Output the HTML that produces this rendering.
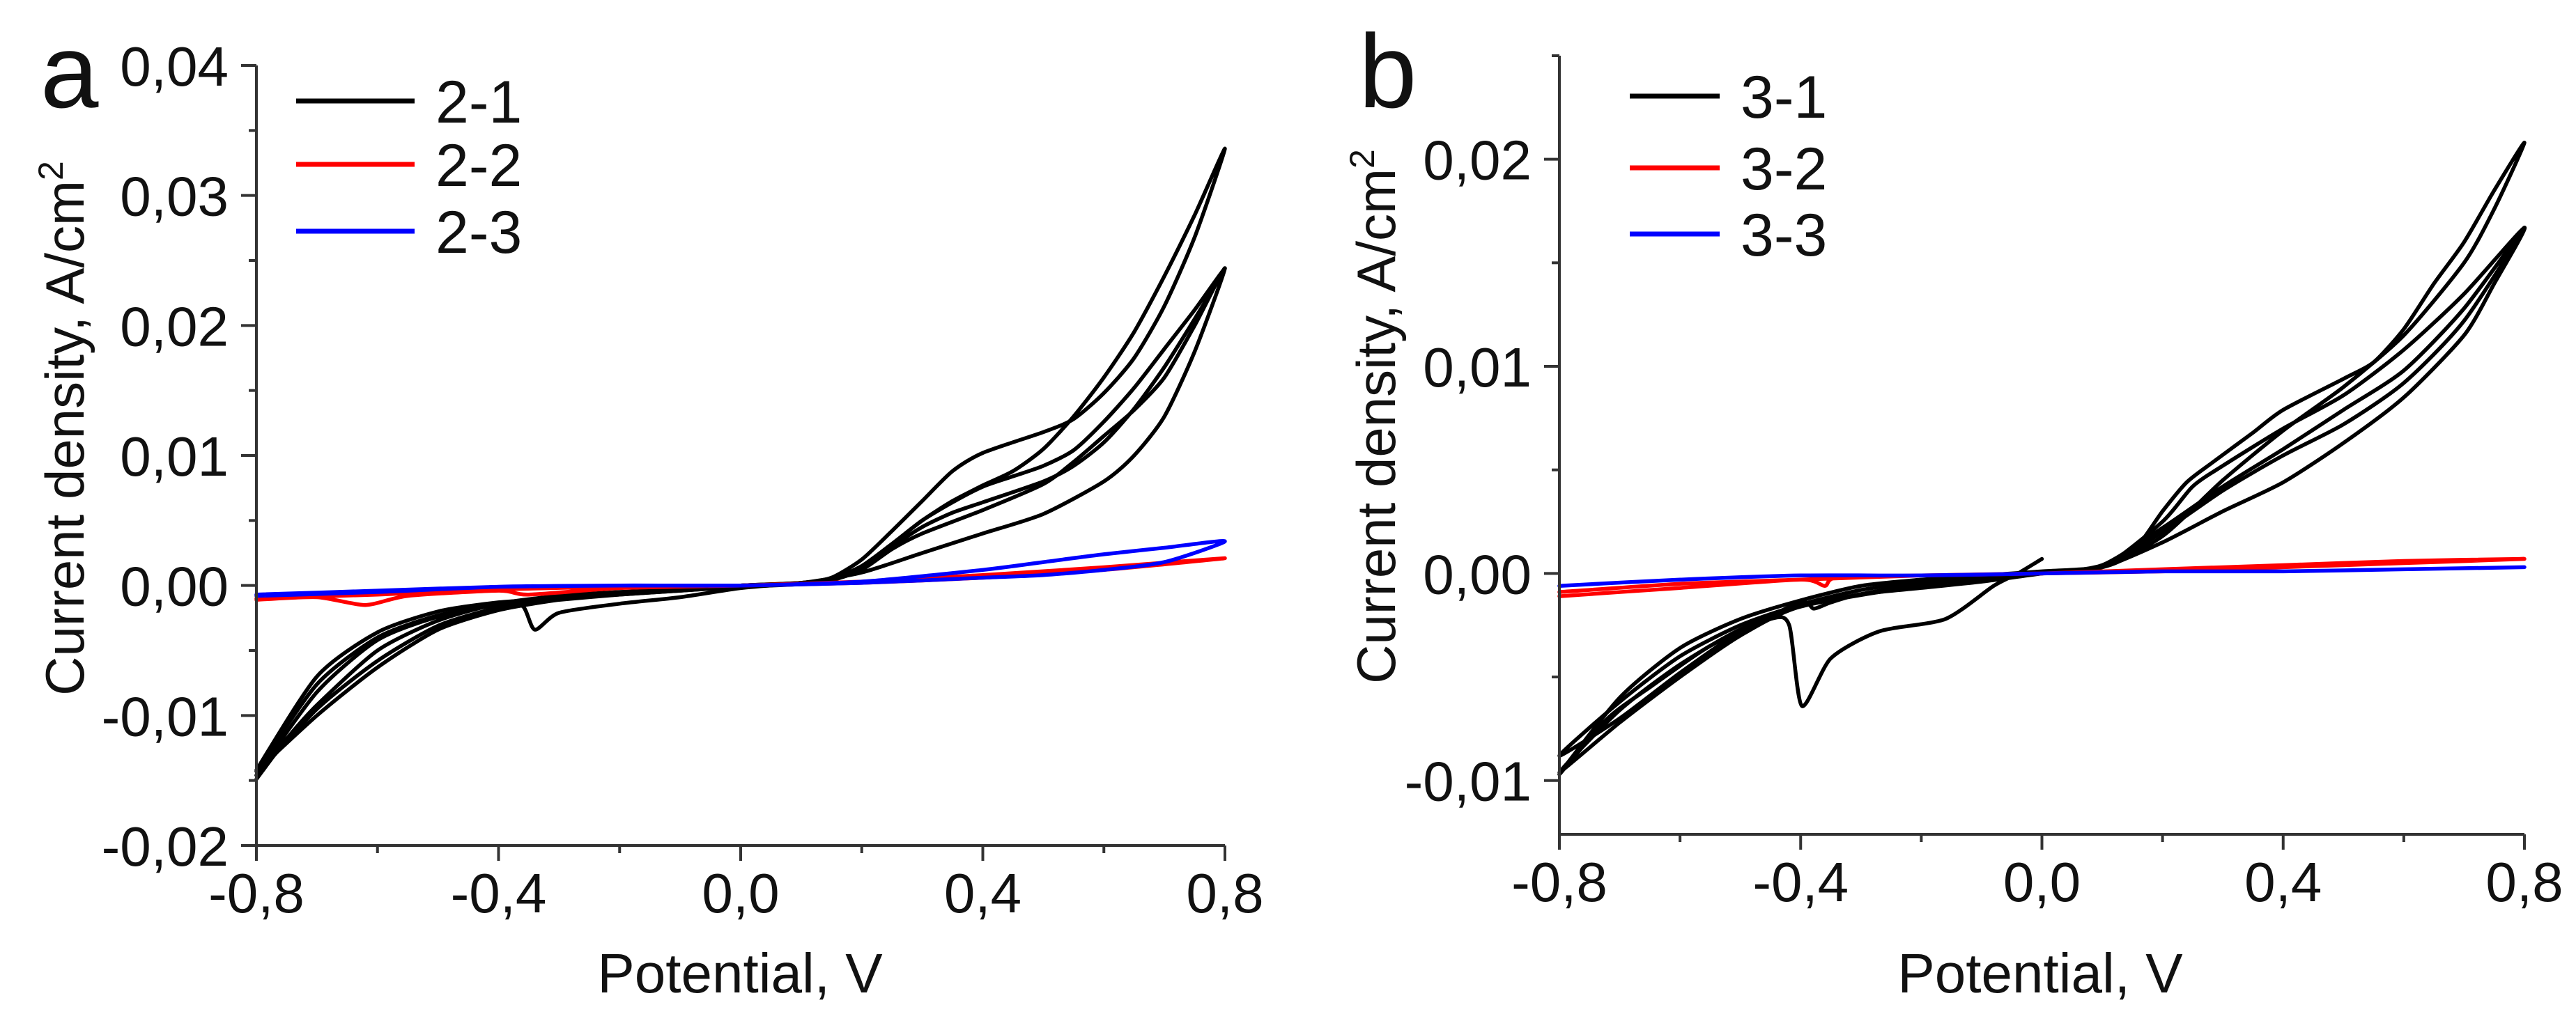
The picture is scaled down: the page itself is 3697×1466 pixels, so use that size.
<!DOCTYPE html>
<html><head><meta charset="utf-8"><style>
html,body{margin:0;padding:0;background:#fff}
svg{display:block}
text{font-family:"Liberation Sans",Arial,sans-serif;fill:#111}
</style></head><body>
<svg id="fig" width="3697" height="1466" viewBox="0 0 3697 1466" xmlns="http://www.w3.org/2000/svg"></svg>
<script>
// ---------- Panel a data ----------
const aX1 = [-0.8,-0.75,-0.7,-0.6,-0.5,-0.4,-0.3,-0.2,-0.1,0,0.1,0.15,0.2,0.25,0.3,0.35,0.4,0.5,0.55,0.6,0.65,0.7,0.75,0.8,0.75,0.7,0.65,0.6,0.55,0.5,0.45,0.4,0.35,0.3,0.25,0.2,0.15,0.1,0,-0.1,-0.2,-0.3,-0.34,-0.36,-0.4,-0.5,-0.6,-0.7,-0.8];
const aY1 = [-0.0149,-0.0118,-0.0092,-0.0050,-0.0027,-0.0014,-0.0008,-0.0005,-0.0003,0,0.0002,0.0006,0.0020,0.0042,0.0065,0.0088,0.0102,0.0118,0.0128,0.0148,0.0175,0.0215,0.0268,0.0336,0.0285,0.0238,0.0195,0.0160,0.0130,0.0105,0.0088,0.0077,0.0065,0.0050,0.0032,0.0015,0.0005,0.0002,-0.0002,-0.0009,-0.0014,-0.0021,-0.0034,-0.0016,-0.0015,-0.0024,-0.0042,-0.0082,-0.0146];
const aX2 = [-0.8,-0.7,-0.6,-0.5,-0.4,-0.3,-0.2,-0.1,0,0.1,0.15,0.2,0.25,0.3,0.35,0.4,0.5,0.55,0.6,0.65,0.7,0.75,0.8,0.75,0.7,0.65,0.6,0.55,0.5,0.45,0.4,0.35,0.3,0.25,0.2,0.15,0.1,0,-0.1,-0.2,-0.3,-0.4,-0.5,-0.6,-0.7,-0.8];
const aY2 = [-0.0146,-0.0095,-0.0058,-0.0031,-0.0017,-0.0010,-0.0006,-0.0003,0,0.0002,0.0005,0.0014,0.0030,0.0045,0.0056,0.0064,0.0080,0.0092,0.0110,0.0136,0.0168,0.0205,0.0244,0.0212,0.0182,0.0152,0.0126,0.0104,0.0092,0.0084,0.0076,0.0064,0.0050,0.0032,0.0015,0.0005,0.0002,-0.0001,-0.0004,-0.0007,-0.0010,-0.0013,-0.0020,-0.0036,-0.0070,-0.0142];
const aX3 = [-0.8,-0.7,-0.6,-0.5,-0.4,-0.3,-0.2,-0.1,0,0.1,0.2,0.3,0.4,0.5,0.6,0.65,0.7,0.75,0.8,0.75,0.7,0.65,0.6,0.55,0.5,0.4,0.3,0.25,0.2,0.15,0.1,0,-0.1,-0.2,-0.3,-0.4,-0.5,-0.6,-0.7,-0.8];
const aY3 = [-0.0143,-0.0100,-0.0063,-0.0034,-0.0019,-0.0011,-0.0006,-0.0003,0,0.0002,0.0010,0.0025,0.0040,0.0055,0.0080,0.0100,0.0130,0.0180,0.0244,0.0200,0.0160,0.0135,0.0115,0.0095,0.0078,0.0058,0.0040,0.0028,0.0012,0.0004,0.0001,-0.0001,-0.0004,-0.0007,-0.0011,-0.0015,-0.0023,-0.0040,-0.0076,-0.0143];
const aRedX = [-0.8,-0.7,-0.62,-0.55,-0.4,-0.35,-0.2,0,0.2,0.4,0.6,0.8,0.6,0.4,0.2,0,-0.2,-0.4,-0.6,-0.8];
const aRedY = [-0.0011,-0.0009,-0.0015,-0.0008,-0.0004,-0.0007,-0.0002,0,0.0003,0.0008,0.0014,0.0021,0.0012,0.0006,0.0002,0,-0.0001,-0.0003,-0.0007,-0.0010];
const aBlueX = [-0.8,-0.6,-0.4,-0.2,0,0.2,0.4,0.5,0.6,0.7,0.8,0.7,0.6,0.5,0.4,0.2,0,-0.2,-0.4,-0.6,-0.8];
const aBlueY = [-0.0008,-0.0005,-0.0001,0,0,0.0003,0.0012,0.0018,0.0024,0.0029,0.0034,0.0018,0.0012,0.0008,0.0006,0.0002,0,0,-0.0001,-0.0004,-0.0007];
// ---------- Panel b data ----------
const bX1 = [0,-0.04,-0.08,-0.16,-0.27,-0.35,-0.398,-0.419,-0.45,-0.55,-0.65,-0.72,-0.8,-0.7,-0.6,-0.5,-0.4,-0.3,-0.2,-0.1,0,0.1,0.15,0.2,0.24,0.28,0.35,0.4,0.5,0.55,0.6,0.65,0.7,0.75,0.8,0.75,0.7,0.6,0.5,0.4,0.3,0.2,0.1,0];
const bY1 = [0.0007,0,-0.0006,-0.0022,-0.0028,-0.0041,-0.0064,-0.0025,-0.0022,-0.0035,-0.0055,-0.0070,-0.0097,-0.0060,-0.0036,-0.0022,-0.0013,-0.0006,-0.0003,-0.0001,0.0001,0.0003,0.0010,0.0030,0.0044,0.0053,0.0068,0.0079,0.0094,0.0102,0.0118,0.0140,0.0160,0.0185,0.0208,0.0176,0.0150,0.0115,0.0090,0.0069,0.0045,0.0018,0.0003,0];
const bX2 = [0,-0.1,-0.2,-0.3,-0.35,-0.378,-0.4,-0.5,-0.6,-0.7,-0.8,-0.7,-0.6,-0.5,-0.4,-0.3,-0.2,-0.1,0,0.1,0.2,0.25,0.3,0.4,0.5,0.6,0.7,0.8,0.75,0.7,0.6,0.5,0.4,0.3,0.2,0.1,0];
const bY2 = [0,-0.0004,-0.0007,-0.0010,-0.0014,-0.0017,-0.0014,-0.0028,-0.0048,-0.0070,-0.0088,-0.0062,-0.0040,-0.0025,-0.0015,-0.0008,-0.0004,-0.0001,0,0.0003,0.0025,0.0042,0.0052,0.0070,0.0086,0.0108,0.0135,0.0167,0.0140,0.0115,0.0085,0.0063,0.0044,0.0030,0.0015,0.0003,0];
const bX3 = [0,-0.2,-0.4,-0.5,-0.6,-0.7,-0.8,-0.7,-0.6,-0.5,-0.4,-0.2,0,0.1,0.2,0.3,0.4,0.5,0.6,0.7,0.8,0.7,0.6,0.5,0.4,0.3,0.2,0.1,0];
const bY3 = [0,-0.0006,-0.0016,-0.0030,-0.0050,-0.0072,-0.0096,-0.0066,-0.0044,-0.0027,-0.0016,-0.0005,0,0.0003,0.0020,0.0040,0.0057,0.0072,0.0092,0.0122,0.0167,0.0128,0.0098,0.0079,0.0060,0.0042,0.0022,0.0004,0];
const bRedX = [-0.8,-0.6,-0.4,-0.36,-0.34,-0.2,0,0.2,0.4,0.6,0.8,0.6,0.4,0.2,0,-0.2,-0.4,-0.6,-0.8];
const bRedY = [-0.0011,-0.0007,-0.0003,-0.0006,-0.0002,-0.0001,0,0.0002,0.0004,0.0006,0.0007,0.0005,0.0003,0.0001,0,-0.0001,-0.0003,-0.0005,-0.0009];
const bBlueX = [-0.8,-0.6,-0.4,-0.2,0,0.2,0.4,0.6,0.8];
const bBlueY = [-0.0006,-0.0003,-0.0001,-0.0001,0,0.0001,0.0001,0.0002,0.0003];
// ---------- Ticks ----------
const xTicks = [-0.8,-0.4,0,0.4,0.8];
const xTickLabels = ["-0,8","-0,4","0,0","0,4","0,8"];
const aYTicks = [-0.02,-0.01,0,0.01,0.02,0.03,0.04];
const aYTickLabels = ["-0,02","-0,01","0,00","0,01","0,02","0,03","0,04"];
const bYTicks = [-0.01,0,0.01,0.02];
const bYTickLabels = ["-0,01","0,00","0,01","0,02"];
const aLegend = ["2-1","2-2","2-3"];
const bLegend = ["3-1","3-2","3-3"];

const NS = "http://www.w3.org/2000/svg";
const svg = document.getElementById("fig");
function mk(tag, attrs, parent){const e=document.createElementNS(NS,tag);for(const k in attrs)e.setAttribute(k,attrs[k]);(parent||svg).appendChild(e);return e;}

function smoothPath(pts){
  let d = "M"+pts[0][0].toFixed(1)+","+pts[0][1].toFixed(1);
  const t = 0.12;
  for(let i=0;i<pts.length-1;i++){
    const p0 = pts[Math.max(0,i-1)], p1 = pts[i], p2 = pts[i+1], p3 = pts[Math.min(pts.length-1,i+2)];
    const c1 = [p1[0]+(p2[0]-p0[0])*t, p1[1]+(p2[1]-p0[1])*t];
    const c2 = [p2[0]-(p3[0]-p1[0])*t, p2[1]-(p3[1]-p1[1])*t];
    d += "C"+c1[0].toFixed(1)+","+c1[1].toFixed(1)+" "+c2[0].toFixed(1)+","+c2[1].toFixed(1)+" "+p2[0].toFixed(1)+","+p2[1].toFixed(1);
  }
  return d;
}

function panel(p){
  const g = mk("g",{});
  
  
  const sx = v => p.x0 + (v - p.xmin)/(p.xmax-p.xmin)*(p.x1-p.x0);
  const sy = v => p.yB + (v - p.ymin)/(p.ymax-p.ymin)*(p.yT-p.yB);
  p.series.forEach(s=>{
    const pts = s.x.map((v,i)=>[sx(v), sy(s.y[i])]);
    const path = mk("path",{d:smoothPath(pts),fill:"none",stroke:s.c,"stroke-width":5.5,"stroke-linejoin":"round","stroke-linecap":"round"},g);
    
    
  });
  const ax = mk("path",{d:`M${p.x0},${p.yT}L${p.x0},${p.yB}L${p.x1},${p.yB}`,fill:"none",stroke:"#333","stroke-width":4},g);
  
  
  for(let v=p.xmin; v<=p.xmax+1e-9; v+=0.2){
    const major = Math.abs(Math.round(v/0.4)*0.4 - v)<1e-6;
    mk("line",{x1:sx(v),x2:sx(v),y1:p.yB,y2:p.yB+(major?22:11),stroke:"#333","stroke-width":4},g);
  }
  xTicks.forEach((v,i)=>{
    const t = mk("text",{x:sx(v),y:p.yB+96,"text-anchor":"middle","font-size":80},g);
    t.textContent = xTickLabels[i];
    
    
  });
  for(let v=Math.ceil(p.ymin/0.005)*0.005; v<=p.ymax+1e-9; v+=0.005){
    const major = Math.abs(Math.round(v/0.01)*0.01 - v)<1e-7;
    mk("line",{x1:p.x0-(major?22:11),x2:p.x0,y1:sy(v),y2:sy(v),stroke:"#333","stroke-width":4},g);
  }
  p.yt.forEach((v,i)=>{
    const t = mk("text",{x:p.x0-40,y:sy(v)+29,"text-anchor":"end","font-size":80},g);
    t.textContent = p.ytl[i];
    
    
  });
  const xt = mk("text",{x:p.xTitleX,y:1425,"text-anchor":"middle","font-size":80},g);
  xt.textContent = "Potential, V";
  
  
  const yt = mk("text",{x:0,y:0,"text-anchor":"middle","font-size":78,transform:`translate(${p.yTitleX},${p.yTitleY}) rotate(-90)`},g);
  yt.innerHTML = 'Current density, A/cm<tspan dy="-30" font-size="50">2</tspan>';
  
  
  const lt = mk("text",{x:p.letterX,y:154,"font-size":150},g);
  lt.textContent = p.letter;
  
  
  const cols = ["#000","#f00","#00f"];
  p.legend.forEach((name,i)=>{
    const y = p.legY[i];
    const lg = mk("g",{},g);
    
    
    mk("line",{x1:p.legX0,x2:p.legX1,y1:y,y2:y,stroke:cols[i],"stroke-width":7},lg);
    const t = mk("text",{x:p.legX1+30,y:y+31,"font-size":86},lg);
    t.textContent = name;
  });
}

panel({id:"a",letter:"a",letterX:58,x0:368,x1:1758,xmin:-0.8,xmax:0.8,yB:1214,yT:94,ymin:-0.02,ymax:0.04,
  yt:aYTicks,ytl:aYTickLabels,xTitleX:1062,yTitleX:120,yTitleY:615,
  legend:aLegend,legX0:425,legX1:595,legY:[145,236,332],
  series:[{name:"series-2-1-cycle1",x:aX1,y:aY1,c:"#000"},{name:"series-2-1-cycle2",x:aX2,y:aY2,c:"#000"},{name:"series-2-1-cycle3",x:aX3,y:aY3,c:"#000"},
          {name:"series-2-2",x:aRedX,y:aRedY,c:"#f00"},{name:"series-2-3",x:aBlueX,y:aBlueY,c:"#00f"}]});
panel({id:"b",letter:"b",letterX:1950,x0:2238,x1:3623,xmin:-0.8,xmax:0.8,yB:1198,yT:80,ymin:-0.0126,ymax:0.025,
  yt:bYTicks,ytl:bYTickLabels,xTitleX:2928,yTitleX:2002,yTitleY:598,
  legend:bLegend,legX0:2339,legX1:2468,legY:[138,241,336],
  series:[{name:"series-3-1-cycle1",x:bX1,y:bY1,c:"#000"},{name:"series-3-1-cycle2",x:bX2,y:bY2,c:"#000"},{name:"series-3-1-cycle3",x:bX3,y:bY3,c:"#000"},
          {name:"series-3-2",x:bRedX,y:bRedY,c:"#f00"},{name:"series-3-3",x:bBlueX,y:bBlueY,c:"#00f"}]});
</script>
</body></html>
